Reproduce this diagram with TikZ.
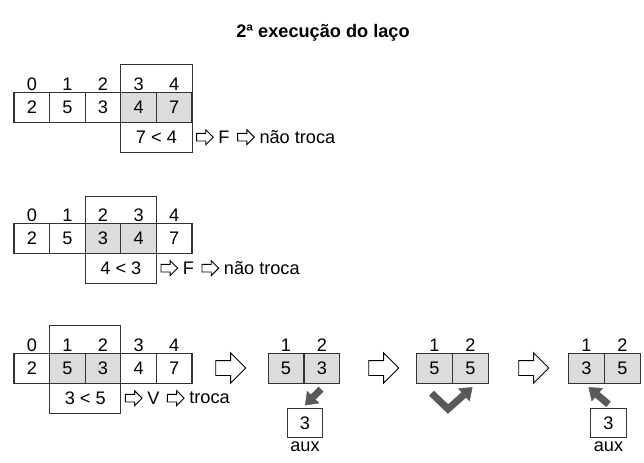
\documentclass[tikz,border=0pt]{standalone}
\usepackage{fontspec}
\setmainfont{Liberation Sans}
\usepackage{tikz}
\usetikzlibrary{arrows.meta,calc,positioning,shapes.arrows}
\definecolor{cellgray}{HTML}{DCDCDC}
\definecolor{linegray}{HTML}{333333}
\definecolor{fatgray}{HTML}{595959}
\tikzset{%
	cell/.style      = {draw=linegray, line width=1pt, rectangle, minimum width=1.07cm, minimum height=0.88cm, inner sep=0pt, outer sep=0pt, text centered},
	index/.style     = {above, inner sep=1.5pt},
	cmpbox/.style    = {cell, anchor=north, minimum width=2.14cm, minimum height=0.9cm},
	boxline/.style   = {draw=linegray, line width=1pt},
	word/.style      = {inner sep=2pt},
	openarrow/.style = {draw=black, line width=0.8pt, fill=white, single arrow, single arrow head extend=0.11cm, minimum height=0.5cm, inner xsep=0pt, inner ysep=0.1cm},
	bigarrow/.style  = {openarrow, minimum height=0.9cm, single arrow head extend=0.23cm, inner ysep=0.21cm},
	fatarrow/.style  = {draw=fatgray, line width=0.21cm, line join=miter, -{Triangle[length=0.35cm,width=0.52cm,line width=0.4pt]}},
}
\begin{document}
\begin{tikzpicture}[x=0.03cm, y=-0.03cm, font=\fontsize{15.5}{18}\selectfont]
	\useasboundingbox (0,0) rectangle (644,462);
	\node[font=\fontsize{15.5}{18}\selectfont\bfseries] (title) at (323,33) {2ª execução do laço};
	
	\foreach \v/\f [count=\i from 0] in {2/white,5/white,3/white,4/cellgray,7/cellgray} \node[cell, fill=\f] (a\i) at (31.8+35.6*\i,107.5) {\v} node[index] at (a\i.north) {\i};
	\node[cmpbox] (ca) at (a3.south east) {7 < 4};
	\draw[boxline] ([shift={(0,-28)}]a3.north west) rectangle (ca.south east);
	\node[openarrow, right=0.12cm of ca] (ca1) {};
	\node[word, right=0.06cm of ca1] (ca2) {F};
	\node[openarrow, right=0.15cm of ca2] (ca3) {};
	\node[word, right=0.06cm of ca3] (ca4) {não troca};
	
	\foreach \v/\f [count=\i from 0] in {2/white,5/white,3/cellgray,4/cellgray,7/white} \node[cell, fill=\f] (b\i) at (31.8+35.6*\i,238.5) {\v} node[index] at (b\i.north) {\i};
	\node[cmpbox] (cb) at (b2.south east) {4 < 3};
	\draw[boxline] ([shift={(0,-27)}]b2.north west) rectangle (cb.south east);
	\node[openarrow, right=0.12cm of cb] (cb1) {};
	\node[word, right=0.06cm of cb1] (cb2) {F};
	\node[openarrow, right=0.15cm of cb2] (cb3) {};
	\node[word, right=0.06cm of cb3] (cb4) {não troca};
	
	\foreach \v/\f [count=\i from 0] in {2/white,5/cellgray,3/cellgray,4/white,7/white} \node[cell, fill=\f] (c\i) at (31.8+35.6*\i,368.5) {\v} node[index] at (c\i.north) {\i};
	\node[cmpbox] (cc) at (c1.south east) {3 < 5};
	\draw[boxline] ([shift={(0,-28)}]c1.north west) rectangle (cc.south east);
	\node[openarrow, right=0.12cm of cc] (cc1) {};
	\node[word, right=0.06cm of cc1] (cc2) {V};
	\node[openarrow, right=0.15cm of cc2] (cc3) {};
	\node[word, right=0.06cm of cc3] (cc4) {troca};
	
	\node[bigarrow] (g1) at (227,368) {};
	\foreach \v [count=\i] in {5,3} \node[cell, fill=cellgray] (p\i) at (250+36*\i,368.5) {\v} node[index] at (p\i.north) {\i};
	\node[cell] (aux1) at (305,423) {3};
	\node[below=1pt of aux1, inner sep=2pt] (auxa) {aux};
	\draw[fatarrow] ([shift={(-1,6)}]p2.south) -- ([shift={(0,-3)}]aux1.north);
	
	\node[bigarrow] (g2) at (380,368) {};
	\foreach \v [count=\i] in {5,5} \node[cell, fill=cellgray] (q\i) at (398.5+36*\i,368.5) {\v} node[index] at (q\i.north) {\i};
	\coordinate (qv) at (448,409);
	\draw[fatarrow] ([shift={(-3,10)}]q1.south) -- (qv) -- ([shift={(2,4)}]q2.south);
	
	\node[bigarrow] (g3) at (530,368) {};
	\foreach \v [count=\i] in {3,5} \node[cell, fill=cellgray] (r\i) at (550.5+36*\i,368.5) {\v} node[index] at (r\i.north) {\i};
	\node[cell] (aux3) at (608.5,423) {3};
	\node[below=1pt of aux3, inner sep=2pt] (auxb) {aux};
	\draw[fatarrow] ([shift={(0,-4)}]aux3.north) -- ([shift={(2,4)}]r1.south);
\end{tikzpicture}
\end{document}
